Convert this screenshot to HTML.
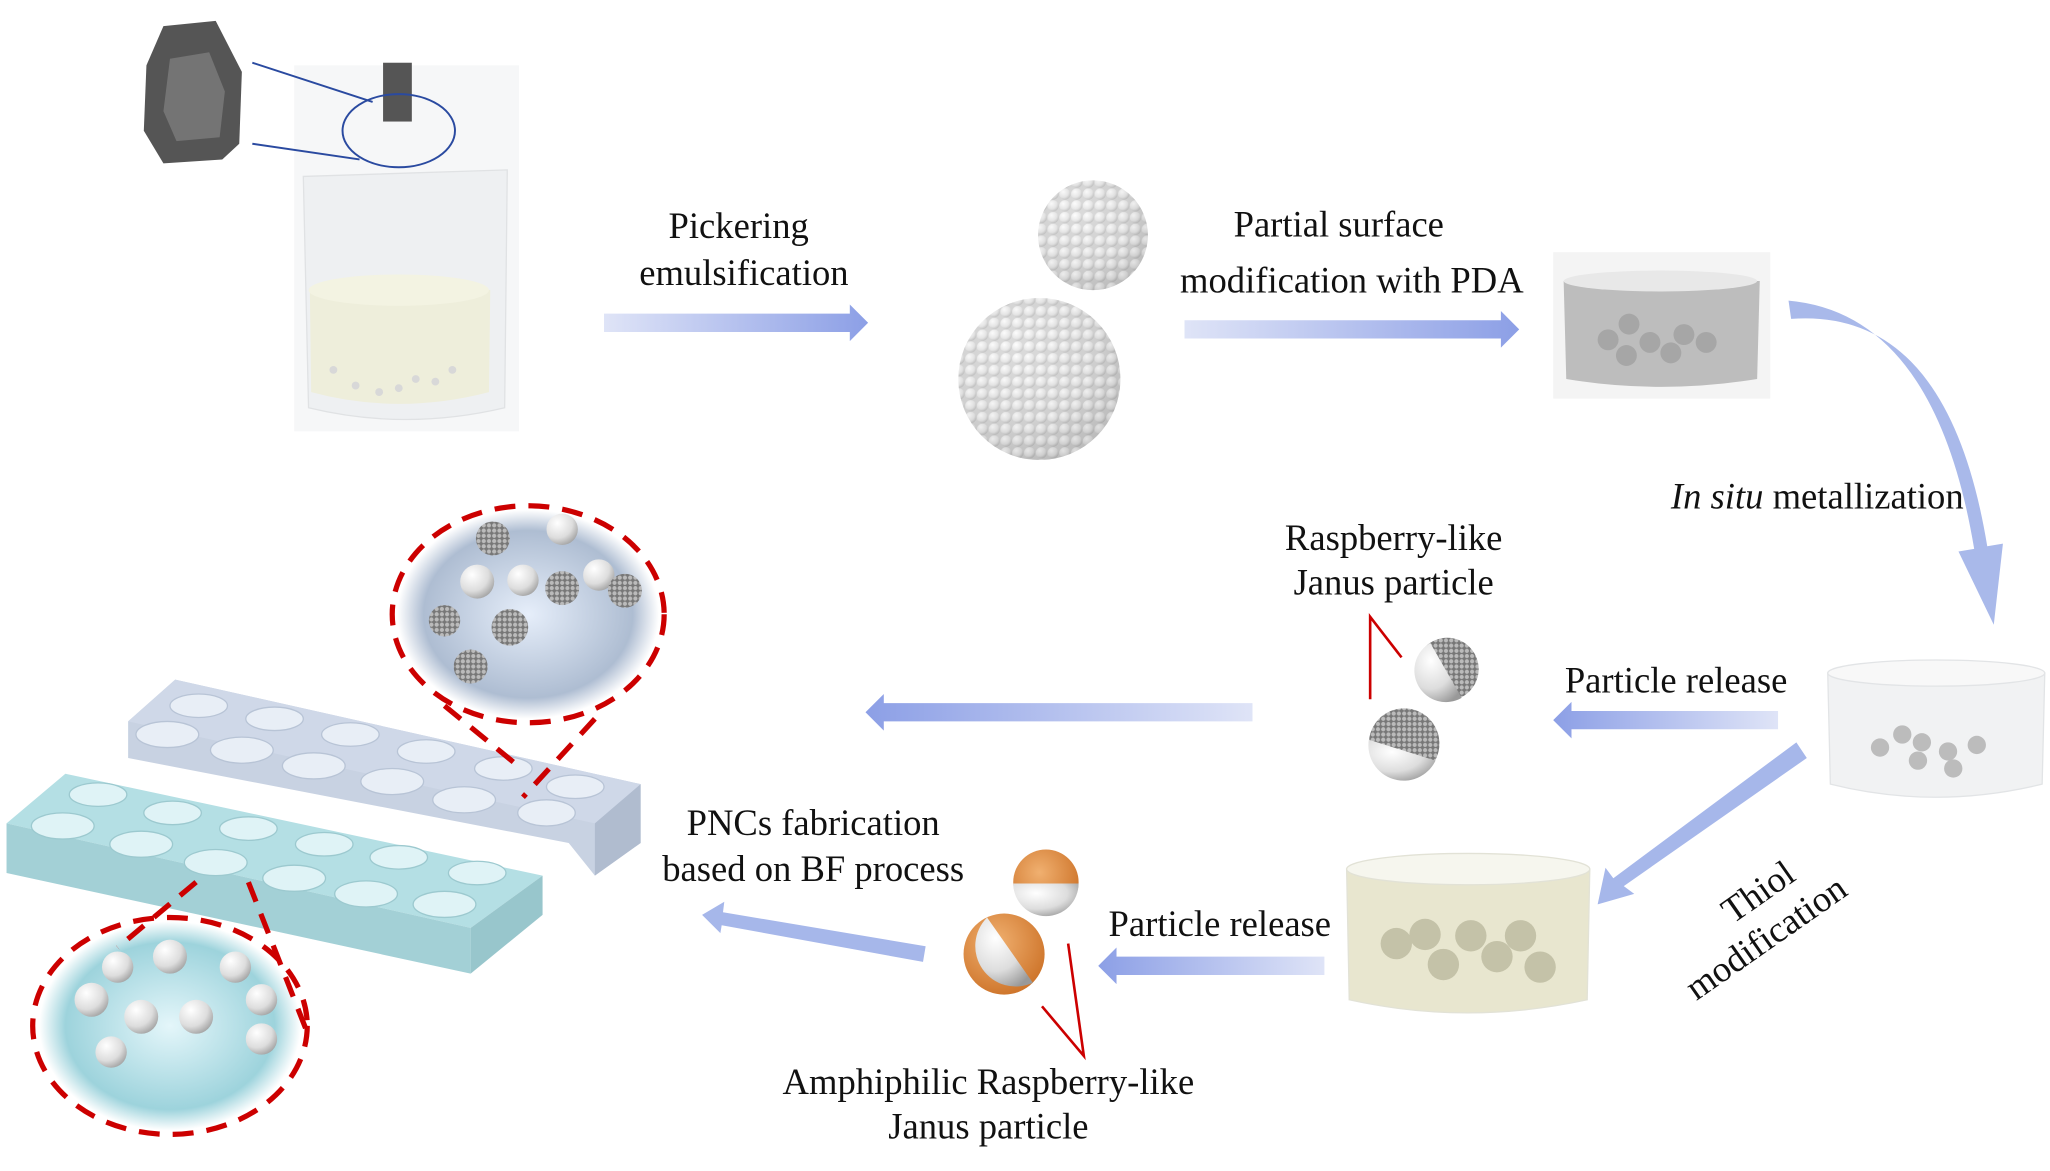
<!DOCTYPE html>
<html><head><meta charset="utf-8"><style>
html,body{margin:0;padding:0;background:#fff;}
svg{display:block;}
text{font-family:"Liberation Serif",serif;font-size:28px;fill:#111;}
</style></head><body>
<svg width="2050" height="1171" viewBox="0 0 1568 896" preserveAspectRatio="none" xmlns="http://www.w3.org/2000/svg">
<defs>
<linearGradient id="ar" x1="0" x2="1" y1="0" y2="0"><stop offset="0" stop-color="#dfe4f7"/><stop offset="1" stop-color="#8c9fe6"/></linearGradient>
<linearGradient id="arl" x1="1" x2="0" y1="0" y2="0"><stop offset="0" stop-color="#dfe4f7"/><stop offset="1" stop-color="#8c9fe6"/></linearGradient>
<radialGradient id="ball" cx="0.35" cy="0.3" r="0.8"><stop offset="0" stop-color="#fff"/><stop offset="0.6" stop-color="#ddd"/><stop offset="1" stop-color="#999"/></radialGradient>
<radialGradient id="rasp" cx="0.4" cy="0.35" r="0.8"><stop offset="0" stop-color="#bbb"/><stop offset="1" stop-color="#666"/></radialGradient>
<radialGradient id="or" cx="0.4" cy="0.35" r="0.8"><stop offset="0" stop-color="#f0b070"/><stop offset="1" stop-color="#c86a1e"/></radialGradient>
<pattern id="pb" width="9" height="9" patternUnits="userSpaceOnUse"><rect width="9" height="9" fill="#c8c8c8"/><circle cx="4.5" cy="4.5" r="4.3" fill="url(#ball)"/></pattern>
<pattern id="pr" width="4" height="4" patternUnits="userSpaceOnUse"><rect width="4" height="4" fill="#777"/><circle cx="2" cy="2" r="1.6" fill="#bbb"/></pattern>
<radialGradient id="bub1" cx="0.5" cy="0.5" r="0.5"><stop offset="0" stop-color="#e6eefa"/><stop offset="0.8" stop-color="#aebdd2"/><stop offset="1" stop-color="#fff"/></radialGradient>
<radialGradient id="bub2" cx="0.5" cy="0.5" r="0.5"><stop offset="0" stop-color="#e4f6fa"/><stop offset="0.8" stop-color="#9dd3dc"/><stop offset="1" stop-color="#fff"/></radialGradient>
</defs>

<rect x="225" y="50" width="172" height="280" fill="#f6f7f8"/>
<path d="M232 135 L388 130 L386 312 Q310 330 236 312 Z" fill="#eef0f2" stroke="#e0e2e4"/>
<path d="M237 222 Q305 205 375 222 L374 300 Q305 318 238 300 Z" fill="#eeeedb"/>
<ellipse cx="305" cy="222" rx="69" ry="12" fill="#f3f3e2"/>
<g fill="#d8d8d8"><circle cx="255" cy="283" r="3"/><circle cx="272" cy="295" r="3"/><circle cx="290" cy="300" r="3"/><circle cx="305" cy="297" r="3"/><circle cx="318" cy="290" r="3"/><circle cx="333" cy="292" r="3"/><circle cx="346" cy="283" r="3"/></g>
<rect x="293" y="48" width="22" height="45" fill="#555"/>
<ellipse cx="305" cy="100" rx="43" ry="28" fill="none" stroke="#2a4aa0" stroke-width="1.5"/>
<line x1="193" y1="48" x2="285" y2="78" stroke="#2a4aa0" stroke-width="1.5"/>
<line x1="193" y1="110" x2="275" y2="122" stroke="#2a4aa0" stroke-width="1.5"/>
<path d="M125 20 L165 16 L185 55 L183 110 L170 122 L125 125 L110 100 L112 50 Z" fill="#555"/>
<path d="M130 45 L160 40 L172 70 L168 105 L135 108 L125 85 Z" fill="#888" opacity=".6"/>

<text x="565" y="182" text-anchor="middle">Pickering</text>
<text x="569" y="218" text-anchor="middle">emulsification</text>
<path d="M462 240 L650 240 L650 233 L664 247 L650 261 L650 254 L462 254 Z" fill="url(#ar)"/>

<circle cx="836" cy="180" r="42" fill="url(#pb)"/>
<circle cx="836" cy="180" r="42" fill="url(#ball)" opacity=".35"/>
<circle cx="795" cy="290" r="62" fill="url(#pb)"/>
<circle cx="795" cy="290" r="62" fill="url(#ball)" opacity=".35"/>

<text x="1024" y="181" text-anchor="middle">Partial surface</text>
<text x="1034" y="224" text-anchor="middle">modification with PDA</text>
<path d="M906 245 L1148 245 L1148 238 L1162 252 L1148 266 L1148 259 L906 259 Z" fill="url(#ar)"/>

<rect x="1188" y="193" width="166" height="112" fill="#f4f4f4"/>
<path d="M1196 215 L1346 215 L1344 290 Q1270 302 1198 290 Z" fill="#bdbdbd"/>
<ellipse cx="1270" cy="215" rx="74" ry="8" fill="#e8e8e8"/>
<g fill="#a6a6a6"><circle cx="1230" cy="260" r="8"/><circle cx="1246" cy="248" r="8"/><circle cx="1262" cy="262" r="8"/><circle cx="1288" cy="256" r="8"/><circle cx="1305" cy="262" r="8"/><circle cx="1278" cy="270" r="8"/><circle cx="1244" cy="272" r="8"/></g>

<path d="M1368 230 Q1480 240 1510 420 L1498 422 L1525 478 L1532 416 L1520 418 Q1490 235 1370 244 Z" fill="#a9b9ea"/>
<text x="1390" y="389" text-anchor="middle"><tspan font-style="italic">In situ</tspan> metallization</text>

<path d="M1398 515 L1564 515 L1562 600 Q1480 620 1400 600 Z" fill="#f1f2f3" stroke="#e2e4e6"/>
<ellipse cx="1481" cy="515" rx="83" ry="10" fill="#f8f8f8" stroke="#e2e4e6"/>
<g fill="#bcbcbc"><circle cx="1438" cy="572" r="7"/><circle cx="1455" cy="562" r="7"/><circle cx="1470" cy="568" r="7"/><circle cx="1467" cy="582" r="7"/><circle cx="1490" cy="575" r="7"/><circle cx="1512" cy="570" r="7"/><circle cx="1494" cy="588" r="7"/></g>

<text x="1282" y="530" text-anchor="middle">Particle release</text>
<path d="M1360 544 L1202 544 L1202 537 L1188 551 L1202 565 L1202 558 L1360 558 Z" fill="url(#arl)"/>

<text x="1066" y="421" text-anchor="middle">Raspberry-like</text>
<text x="1066" y="455" text-anchor="middle">Janus particle</text>
<path d="M1072 503 L1048 472 L1048 535" fill="none" stroke="#c00" stroke-width="2"/>
<circle cx="1107" cy="512" r="24" fill="url(#pr)"/>
<path d="M1094 492 A24 24 0 0 0 1118 534 Z" fill="url(#ball)"/>
<circle cx="1074" cy="569" r="27" fill="url(#pr)"/>
<path d="M1047 566 A27 27 0 0 0 1098 582 Z" fill="url(#ball)"/>

<path d="M958 538 L676 538 L676 531 L662 545 L676 559 L676 552 L958 552 Z" fill="url(#arl)"/>

<path d="M1374 568 L1234 672 L1228 664 L1222 692 L1250 684 L1242 678 L1382 580 Z" fill="#a6b7ea"/>
<text x="1350" y="690" text-anchor="middle" transform="rotate(-35 1350 690)">Thiol</text>
<text x="1356" y="725" text-anchor="middle" transform="rotate(-35 1356 725)">modification</text>

<path d="M1030 665 L1216 665 L1214 765 Q1122 785 1032 765 Z" fill="#e8e6cf" stroke="#e2e2d6"/>
<ellipse cx="1123" cy="665" rx="93" ry="12" fill="#f6f6ee" stroke="#e2e2d6"/>
<g fill="#c4c2a8"><circle cx="1068" cy="722" r="12"/><circle cx="1090" cy="715" r="12"/><circle cx="1104" cy="738" r="12"/><circle cx="1125" cy="716" r="12"/><circle cx="1145" cy="732" r="12"/><circle cx="1163" cy="716" r="12"/><circle cx="1178" cy="740" r="12"/></g>

<text x="933" y="716" text-anchor="middle">Particle release</text>
<path d="M1013 732 L854 732 L854 725 L840 739 L854 753 L854 746 L1013 746 Z" fill="url(#arl)"/>

<circle cx="800" cy="675" r="25" fill="url(#or)"/>
<path d="M775 676 A25 25 0 0 0 825 676 Z" fill="url(#ball)"/>
<circle cx="768" cy="730" r="31" fill="url(#or)"/>
<path d="M755 702 A31 31 0 0 0 790 752 Z" fill="url(#ball)"/>
<path d="M817 722 L829 808 L797 770" fill="none" stroke="#c00" stroke-width="2"/>
<text x="756" y="837" text-anchor="middle">Amphiphilic Raspberry-like</text>
<text x="756" y="871" text-anchor="middle">Janus particle</text>

<path d="M708 724 L553 698 L554 690 L537 700 L551 714 L552 708 L706 736 Z" fill="#a6b7ea"/>
<text x="622" y="639" text-anchor="middle">PNCs fabrication</text>
<text x="622" y="674" text-anchor="middle">based on BF process</text>

<path d="M98 552 L134 520 L490 600 L490 645 L455 670 L435 645 L98 580 Z" fill="#c8d2e2"/>
<path d="M98 552 L134 520 L490 600 L455 630 Z" fill="#cfd8e8"/>
<path d="M455 630 L490 600 L490 645 L455 670 Z" fill="#b0bccf"/>
<g fill="#e8eef6" stroke="#b8c4d6">
<ellipse cx="152" cy="540" rx="22" ry="9"/><ellipse cx="128" cy="562" rx="24" ry="10"/><ellipse cx="210" cy="550" rx="22" ry="9"/><ellipse cx="185" cy="574" rx="24" ry="10"/><ellipse cx="268" cy="562" rx="22" ry="9"/><ellipse cx="240" cy="586" rx="24" ry="10"/><ellipse cx="326" cy="575" rx="22" ry="9"/><ellipse cx="300" cy="598" rx="24" ry="10"/><ellipse cx="385" cy="588" rx="22" ry="9"/><ellipse cx="355" cy="612" rx="24" ry="10"/><ellipse cx="440" cy="602" rx="22" ry="9"/><ellipse cx="418" cy="622" rx="22" ry="10"/>
</g>
<path d="M5 630 L50 592 L415 670 L360 710 Z" fill="#b4dfe4"/>
<path d="M5 630 L360 710 L360 745 L5 668 Z" fill="#a3d0d6"/>
<path d="M360 710 L415 670 L415 700 L360 745 Z" fill="#98c6cc"/>
<g fill="#dff3f6" stroke="#9cc9cf">
<ellipse cx="75" cy="608" rx="22" ry="9"/><ellipse cx="48" cy="632" rx="24" ry="10"/><ellipse cx="132" cy="622" rx="22" ry="9"/><ellipse cx="108" cy="646" rx="24" ry="10"/><ellipse cx="190" cy="634" rx="22" ry="9"/><ellipse cx="165" cy="660" rx="24" ry="10"/><ellipse cx="248" cy="646" rx="22" ry="9"/><ellipse cx="225" cy="672" rx="24" ry="10"/><ellipse cx="305" cy="656" rx="22" ry="9"/><ellipse cx="280" cy="684" rx="24" ry="10"/><ellipse cx="365" cy="668" rx="22" ry="9"/><ellipse cx="340" cy="692" rx="24" ry="10"/>
</g>

<ellipse cx="404" cy="470" rx="100" ry="80" fill="url(#bub1)"/>
<g><circle cx="377" cy="412" r="13" fill="url(#pr)"/><circle cx="430" cy="405" r="12" fill="url(#ball)"/><circle cx="365" cy="445" r="13" fill="url(#ball)"/><circle cx="400" cy="444" r="12" fill="url(#ball)"/><circle cx="430" cy="450" r="13" fill="url(#pr)"/><circle cx="458" cy="440" r="12" fill="url(#ball)"/><circle cx="478" cy="452" r="13" fill="url(#pr)"/><circle cx="390" cy="480" r="14" fill="url(#pr)"/><circle cx="340" cy="475" r="12" fill="url(#pr)"/><circle cx="360" cy="510" r="13" fill="url(#pr)"/></g>
<ellipse cx="404" cy="470" rx="104" ry="83" fill="none" stroke="#c00" stroke-width="4" stroke-dasharray="16 10"/>
<path d="M340 540 L395 585 M455 550 L400 610" stroke="#c00" stroke-width="4" stroke-dasharray="16 10"/>
<ellipse cx="130" cy="785" rx="100" ry="80" fill="url(#bub2)"/>
<g fill="url(#ball)"><circle cx="90" cy="740" r="12"/><circle cx="130" cy="732" r="13"/><circle cx="180" cy="740" r="12"/><circle cx="70" cy="765" r="13"/><circle cx="108" cy="778" r="13"/><circle cx="150" cy="778" r="13"/><circle cx="200" cy="765" r="12"/><circle cx="85" cy="805" r="12"/><circle cx="200" cy="795" r="12"/></g>
<ellipse cx="130" cy="785" rx="105" ry="83" fill="none" stroke="#c00" stroke-width="4" stroke-dasharray="16 10"/>
<path d="M190 675 L235 790 M150 675 L90 725" stroke="#c00" stroke-width="4" stroke-dasharray="16 10"/>
</svg>
</body></html>
